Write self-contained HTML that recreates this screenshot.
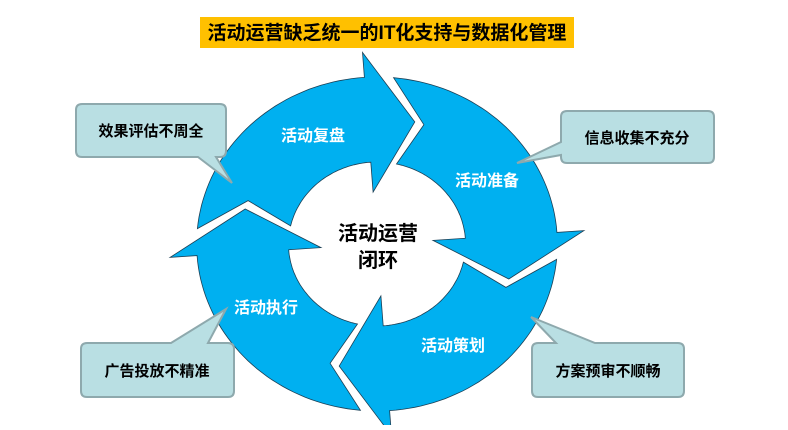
<!DOCTYPE html>
<html><head><meta charset="utf-8"><style>
html,body{margin:0;padding:0;background:#fff;}
body{width:788px;height:425px;overflow:hidden;}
svg text{font-family:"Liberation Sans","Noto Sans CJK SC",sans-serif;font-weight:bold;}
</style></head><body>
<svg id="s" width="788" height="425" viewBox="0 0 788 425" xmlns="http://www.w3.org/2000/svg">
<rect x="200" y="17" width="374" height="31" fill="#ffc000"/>
<text x="387" y="39" font-size="19" text-anchor="middle" fill="#000">活动运营缺乏统一的IT化支持与数据化管理</text>
<g id="arrows" fill="#00b0f0" stroke="#1b3f55" stroke-width="0.8"></g>
<g fill="#fff" font-size="16" text-anchor="middle">
<text x="313" y="141">活动复盘</text>
<text x="487" y="186">活动准备</text>
<text x="453" y="351">活动策划</text>
<text x="266" y="313">活动执行</text>
</g>
<g fill="#000" font-size="20" text-anchor="middle">
<text x="378" y="240">活动运营</text>
<text x="378" y="267">闭环</text>
</g>
<g fill="#b9dfe3" stroke="#8ea9ad" stroke-width="2">
<path d="M82,104 H220 Q226,104 226,110 V151 Q226,157 220,157 H216 L232,183 L198,157 H82 Q76,157 76,151 V110 Q76,104 82,104 Z"/>
<path d="M567,111 H708 Q714,111 714,117 V157 Q714,163 708,163 H567 Q561,163 561,157 V155 L517,163 L561,142 V117 Q561,111 567,111 Z"/>
<path d="M87,343 H171 L226,309 L208,343 H228 Q234,343 234,349 V391 Q234,397 228,397 H87 Q81,397 81,391 V349 Q81,343 87,343 Z"/>
<path d="M538,343 H556 L531,317 L595,343 H678 Q684,343 684,349 V391 Q684,397 678,397 H538 Q532,397 532,391 V349 Q532,343 538,343 Z"/>
</g>
<g fill="#000" font-size="15" text-anchor="middle">
<text x="151" y="136">效果评估不周全</text>
<text x="637" y="143">信息收集不充分</text>
<text x="157" y="376">广告投放不精准</text>
<text x="608" y="376">方案预审不顺畅</text>
</g>
</svg>
<script>
(function(){
var CX=377,CY=244,SX=1.08,RO=167,RI=82,RT=127;
function pol(r,a){a=a*Math.PI/180;return [r*Math.cos(a),r*Math.sin(a)];}
function scr(p){return (CX+SX*p[0]).toFixed(1)+","+(CY+p[1]).toFixed(1);}
function cross(A,B,R){
  var dx=B[0]-A[0],dy=B[1]-A[1];
  var a=dx*dx+dy*dy,b=2*(A[0]*dx+A[1]*dy),c=A[0]*A[0]+A[1]*A[1]-R*R;
  var d=Math.sqrt(Math.max(0,b*b-4*a*c));
  var s1=(-b-d)/(2*a),s2=(-b+d)/(2*a);
  var s=(s1>=0&&s1<=1)?s1:s2;
  return [A[0]+s*dx,A[1]+s*dy];
}
function rot(p,g){var a=g*Math.PI/180,c=Math.cos(a),s=Math.sin(a);return [p[0]*c-p[1]*s,p[0]*s+p[1]*c];}
function ang(p){return Math.atan2(p[1],p[0])*180/Math.PI;}
function norm(a,B){while(a>B)a-=360;while(a<=B-360)a+=360;return a;}
function arcPts(r,a1,a2){var pts=[],n=40;for(var i=0;i<=n;i++){pts.push(pol(r,a1+(a2-a1)*i/n));}return pts;}
var g=document.getElementById('arrows'),out='';
var tips=[16,106,196,286];
tips.forEach(function(T){
  var B=T-20,P=T-90,gap=4;
  var tip=pol(RT,T),ob=pol(192,B),ib=pol(52,B);
  var ptip=pol(RT,P),pob=pol(192,P-20),pib=pol(52,P-20);
  var to=rot(cross(ptip,pob,RO),gap),ti=rot(cross(ptip,pib,RI),gap),tn=rot(ptip,gap);
  var ao=norm(ang(to),B),ai=norm(ang(ti),B);
  var pts=[];
  pts=pts.concat(arcPts(RO,ao,B));
  pts.push(ob,tip,ib);
  pts=pts.concat(arcPts(RI,B,ai));
  pts.push(tn);
  out+='<polygon points="'+pts.map(scr).join(' ')+'"/>';
});
g.innerHTML=out;
})();
</script>
</body></html>
